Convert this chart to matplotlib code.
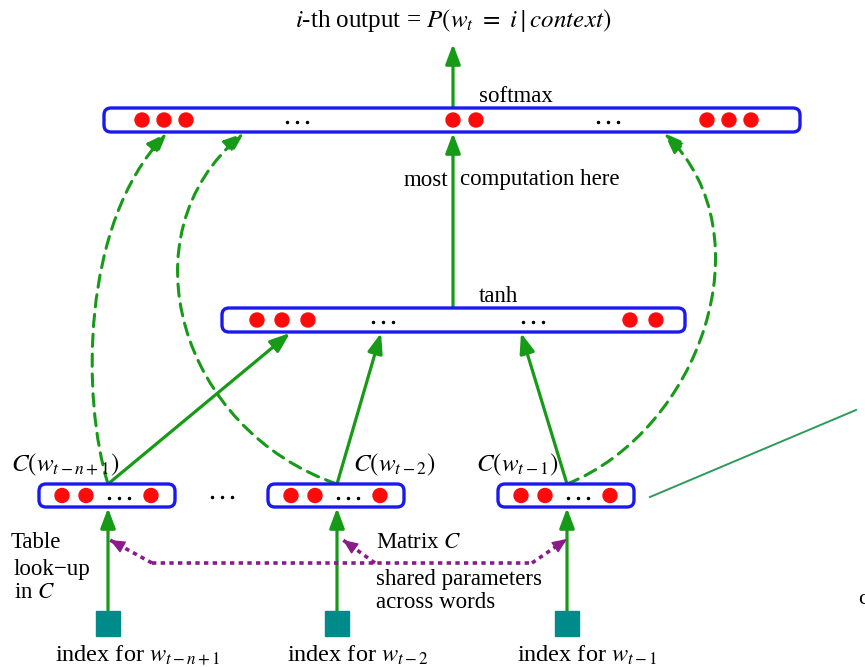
import matplotlib.pyplot as plt
from matplotlib.patches import FancyBboxPatch, FancyArrowPatch, Ellipse, Rectangle
from matplotlib.path import Path

plt.rcParams["font.family"] = ["Liberation Serif", "DejaVu Serif"]
plt.rcParams["mathtext.fontset"] = "stix"

# ---------------------------------------------------------------------------
# Layout (pixel coordinates of the 865x667 canvas, y grows downwards)
# ---------------------------------------------------------------------------
softmax_box = (104, 800, 108, 132)
softmax_units = [142, 164, 186, 453, 476, 707, 729, 751]
softmax_gaps = [297, 608]

tanh_box = (222, 685, 308, 332)
tanh_units = [257, 282, 308, 630, 656]
tanh_gaps = [383, 533]

emb_left = [39, 268, 498]
emb_width = 136
emb_top, emb_bottom = 484, 507
emb_unit_offsets = [23, 47, 112]
emb_gap_offset = 80
emb_labels = [r"$C(w_{t-n+1})$", r"$C(w_{t-2})$", r"$C(w_{t-1})$"]
emb_label_x = [11, 353, 476]

word_x = [108, 337, 567]
word_labels = [r"index for $w_{t-n+1}$", r"index for $w_{t-2}$", r"index for $w_{t-1}$"]
word_label_x = [55, 287, 517]

tanh_in_x = [290, 381, 521]
softmax_in_x = [167, 244, 664]
# cubic bezier control points for the dashed direct connections
skip_ctrl = [[(82, 400), (80, 225)], [(180, 430), (122, 235)], [(700, 430), (768, 235)]]

# shared-parameter (matrix C) dotted connector
share_y = 563
share_x = [152, 532]
share_branches = [((152, 563), (110, 540)), ((375, 563), (343, 540)), ((532, 563), (567, 539))]

GREEN = "#179a17"
BLUE = "#1a1aee"
RED = "#ff0a0a"
TEAL = "#008b8b"
PURPLE = "#8b1a8b"
FS = 16.5

fig = plt.figure(figsize=(8.65, 6.67), dpi=100)
ax = fig.add_axes([0, 0, 1, 1])
ax.set_xlim(0, 865)
ax.set_ylim(667, 0)
ax.axis("off")


def layer(box, units, gaps):
    x0, x1, y0, y1 = box
    ax.add_patch(FancyBboxPatch((x0, y0), x1 - x0, y1 - y0,
                                boxstyle="round,pad=0,rounding_size=7",
                                fc="white", ec=BLUE, lw=2.4, zorder=3))
    yc = (y0 + y1) / 2
    for ux in units:
        ax.add_patch(Ellipse((ux, yc), 14, 14, color=RED, zorder=4))
    for gx in gaps:
        ax.plot([gx - 10, gx, gx + 10], [yc + 2] * 3, "o", ms=1.5, color="black", zorder=4)


def arrow(p0, p1, color=GREEN, lw=2.3):
    ax.add_patch(FancyArrowPatch(p0, p1, arrowstyle="-|>,head_length=0.8,head_width=0.3",
                                 mutation_scale=15, color=color, lw=lw,
                                 shrinkA=0, shrinkB=0, zorder=2))


# output
ax.text(453, 20, r"$i$-th output = $P(w_t\ =\ i\mid context)$", fontsize=18,
        ha="center", va="center")
arrow((453, softmax_box[2]), (453, 44))

layer(softmax_box, softmax_units, softmax_gaps)
ax.text(479, 96, "softmax", fontsize=FS, ha="left", va="center")

layer(tanh_box, tanh_units, tanh_gaps)
ax.text(479, 296, "tanh", fontsize=FS, ha="left", va="center")
arrow((453, tanh_box[2]), (453, softmax_box[3] + 1))
ax.text(448, 180, "most", fontsize=FS, ha="right", va="center")
ax.text(460, 180, "computation here", fontsize=FS, ha="left", va="center")

# embeddings
for i, x0 in enumerate(emb_left):
    units = [x0 + o for o in emb_unit_offsets]
    layer((x0, x0 + emb_width, emb_top, emb_bottom), units, [x0 + emb_gap_offset])
    ax.text(emb_label_x[i], 465, emb_labels[i], fontsize=18, ha="left", va="center")
    # to tanh
    arrow((word_x[i], emb_top), (tanh_in_x[i], tanh_box[3] + 1))
    # direct connection to softmax
    c1, c2 = skip_ctrl[i]
    p = Path([(word_x[i], emb_top), c1, c2, (softmax_in_x[i], softmax_box[3] + 1)],
             [Path.MOVETO, Path.CURVE4, Path.CURVE4, Path.CURVE4])
    ax.add_patch(FancyArrowPatch(path=p, arrowstyle="-|>,head_length=0.8,head_width=0.3",
                                 mutation_scale=15, color=GREEN, lw=2.2,
                                 linestyle=(0, (4, 2.5)), zorder=2))
    # word index square and look-up arrow
    ax.add_patch(Rectangle((word_x[i] - 12, 611), 24, 25, color=TEAL, zorder=3))
    arrow((word_x[i], 611), (word_x[i], emb_bottom + 1))
    ax.text(word_label_x[i], 655, word_labels[i], fontsize=17.5, ha="left", va="center")

ax.plot([222 - 10, 222, 222 + 10], [497] * 3, "o", ms=1.5, color="black")

# shared parameters (matrix C)
ax.plot(share_x, [share_y, share_y], color=PURPLE, lw=2.6, linestyle=(0, (1.2, 1.2)))
for start, tip in share_branches:
    ax.plot([start[0], tip[0]], [start[1], tip[1]], color=PURPLE, lw=2.6,
            linestyle=(0, (1.2, 1.2)))
    dx, dy = tip[0] - start[0], tip[1] - start[1]
    d = (dx ** 2 + dy ** 2) ** 0.5
    base = (tip[0] - dx / d * 9, tip[1] - dy / d * 9)
    ax.add_patch(FancyArrowPatch(base, tip, arrowstyle="-|>,head_length=0.7,head_width=0.3",
                                 mutation_scale=13, color=PURPLE, lw=1,
                                 shrinkA=0, shrinkB=0, zorder=2))

ax.text(11, 543, "Table", fontsize=FS, ha="left", va="center")
ax.text(14, 569, "look\u2212up", fontsize=FS, ha="left", va="center")
ax.text(14, 592, r"in $C$", fontsize=FS, ha="left", va="center")
ax.text(376, 542, r"Matrix $C$", fontsize=FS, ha="left", va="center")
ax.text(376, 580, "shared parameters", fontsize=FS, ha="left", va="center")
ax.text(376, 602, "across words", fontsize=FS, ha="left", va="center")

# link out to the right
ax.plot([650, 856], [497, 410], color="#2e9a5a", lw=1.4)
ax.text(858, 600, "c", fontsize=16, ha="left", va="center", clip_on=True)

fig.savefig("out.png", dpi=100)
